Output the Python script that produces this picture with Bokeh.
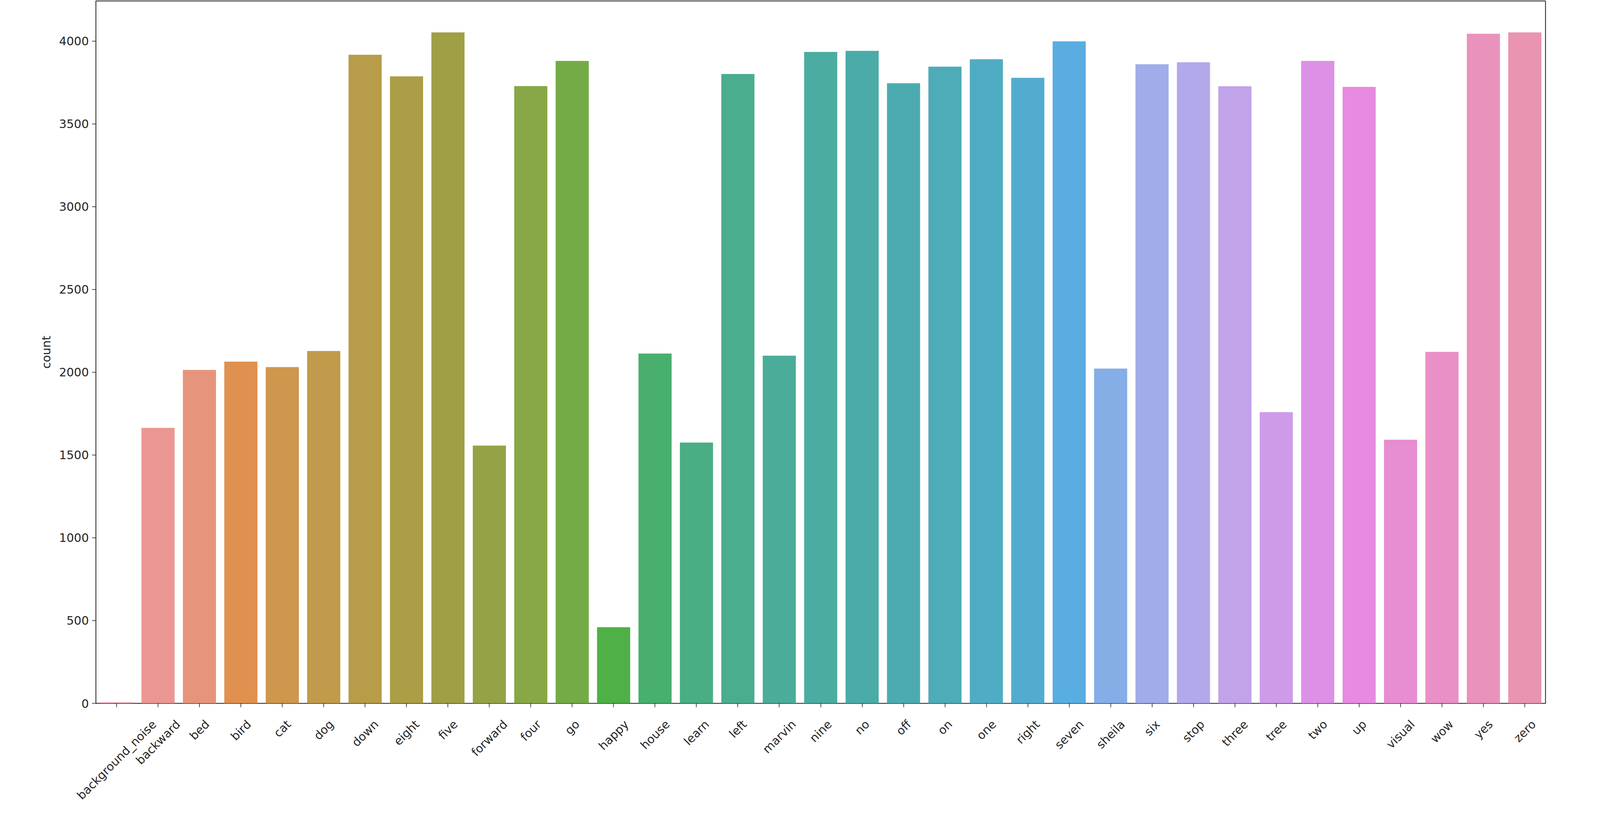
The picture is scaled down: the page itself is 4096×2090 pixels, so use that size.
import math
import colorsys
from bokeh.plotting import figure
from bokeh.layouts import column
from bokeh.models import ColumnDataSource, FactorRange, Range1d, FixedTicker
from bokeh.core.properties import value
from bokeh.embed import file_html
from bokeh.resources import INLINE

# ---------------- data ----------------
categories = ["background_noise", "backward", "bed", "bird", "cat", "dog", "down", "eight",
              "five", "forward", "four", "go", "happy", "house", "learn", "left", "marvin",
              "nine", "no", "off", "on", "one", "right", "seven", "sheila", "six", "stop",
              "three", "tree", "two", "up", "visual", "wow", "yes", "zero"]
counts = [6, 1664, 2014, 2064, 2031, 2128, 3917, 3787,
          4052, 1557, 3728, 3880, 460, 2113, 1575, 3801, 2100,
          3934, 3941, 3745, 3845, 3890, 3778, 3998, 2022, 3860, 3872,
          3727, 1759, 3880, 3723, 1592, 2123, 4044, 4052]
y_ticks = [0, 500, 1000, 1500, 2000, 2500, 3000, 3500, 4000]
y_label = "count"

# ---------------- seaborn-like husl palette ----------------
_m = [[3.2406, -1.5372, -0.4986],
      [-0.9689, 1.8758, 0.0415],
      [0.0557, -0.2040, 1.0570]]
_refU, _refV = 0.19784, 0.46834


def _max_chroma(L, H):
    hrad = math.radians(H)
    sinH, cosH = math.sin(hrad), math.cos(hrad)
    sub1 = (L + 16) ** 3 / 1560896.0
    sub2 = sub1 if sub1 > 0.008856 else L / 903.3
    result = float("inf")
    for m1, m2, m3 in _m:
        top = (0.99915 * m1 + 1.05122 * m2 + 1.14460 * m3) * sub2
        rbottom = 0.86330 * m3 - 0.17266 * m2
        lbottom = 0.12949 * m3 - 0.38848 * m1
        bottom = (rbottom * sinH + lbottom * cosH) * sub2
        for t in (0.0, 1.0):
            C = L * (top - 1.05122 * t) / (bottom + 0.17266 * sinH * t)
            if 0.0 < C < result:
                result = C
    return result


def _husl_to_rgb(H, S, L):
    C = _max_chroma(L, H) / 100.0 * S
    U = math.cos(math.radians(H)) * C
    V = math.sin(math.radians(H)) * C
    t = (L + 16.0) / 116.0
    varY = t ** 3 if t ** 3 > 0.008856 else (116.0 * t - 16.0) / 903.3
    varU = U / (13.0 * L) + _refU
    varV = V / (13.0 * L) + _refV
    Y = varY
    X = 0.0 - (9.0 * Y * varU) / ((varU - 4.0) * varV - varU * varV)
    Z = (9.0 * Y - (15.0 * varV * Y) - (varV * X)) / (3.0 * varV)
    out = []
    for row in _m:
        c = row[0] * X + row[1] * Y + row[2] * Z
        c = 12.92 * c if c <= 0.0031308 else 1.055 * c ** (1 / 2.4) - 0.055
        out.append(min(max(c, 0.0), 1.0))
    return out


def palette(n, h=0.01, s=0.9, l=0.7, desat=0.75):
    cols = []
    for i in range(n):
        hue = ((i / n) + h) % 1 * 359
        r, g, b = _husl_to_rgb(hue, s * 99, l * 99)
        hh, ll, ss = colorsys.rgb_to_hls(r, g, b)
        r, g, b = colorsys.hls_to_rgb(hh, ll, ss * desat)
        cols.append("#%02x%02x%02x" % (round(r * 255), round(g * 255), round(b * 255)))
    return cols


colors = palette(len(categories))

# ---------------- layout constants ----------------
W, H = 4080, 2074
FS = 30
LEFT, RIGHT, TOP = 245, 124, 2
FRAME_H = 1799
BOTTOM1 = 20                        # room for x tick marks under the main frame
H2 = H - (TOP + FRAME_H + BOTTOM1)  # label strip height

# approximate DejaVu Sans advance widths (em) for centering rotated labels
_w = {'a': .613, 'b': .635, 'c': .550, 'd': .635, 'e': .615, 'f': .352, 'g': .635, 'h': .634,
      'i': .278, 'k': .579, 'l': .278, 'm': .974, 'n': .634, 'o': .612, 'p': .635, 'r': .411,
      's': .521, 't': .392, 'u': .634, 'v': .592, 'w': .818, 'x': .592, 'y': .592, 'z': .525,
      '_': .5}


def text_w(s):
    return sum(_w.get(ch, 0.6) for ch in s) * FS


label_y = [-((36 + (text_w(c) + 1.15 * FS) * 0.7071 / 2) - BOTTOM1) for c in categories]
label_x = [i + 0.5 for i in range(len(categories))]

src = ColumnDataSource(dict(cat=categories, count=counts, color=colors))

# ---------------- main figure ----------------
p = figure(width=W, height=TOP + FRAME_H + BOTTOM1,
           x_range=FactorRange(*categories),
           y_range=Range1d(0, 4242),
           output_backend="svg", toolbar_location=None,
           min_border_left=LEFT, min_border_right=RIGHT,
           min_border_top=TOP, min_border_bottom=BOTTOM1)
p.frame_align = False

p.vbar(x="cat", top="count", width=0.8, fill_color="color", line_color=None, source=src)

p.xgrid.visible = False
p.ygrid.visible = False
p.background_fill_color = "white"
p.border_fill_color = "white"
p.outline_line_color = "#1a1a1a"
p.outline_line_width = 2

for ax in (p.xaxis[0], p.yaxis[0]):
    ax.axis_line_color = None
    ax.major_tick_out = 10
    ax.major_tick_in = 0
    ax.major_tick_line_color = "#1a1a1a"
    ax.major_tick_line_width = 1.5
    ax.minor_tick_line_color = None
    ax.major_label_text_font = "DejaVu Sans"
    ax.major_label_text_font_size = f"{FS}px"
    ax.major_label_text_color = "#262626"

p.xaxis.major_label_text_color = None
p.xaxis.major_label_text_font_size = "0px"
p.xaxis.major_label_standoff = 0

p.yaxis.ticker = FixedTicker(ticks=y_ticks)
p.yaxis.major_label_standoff = 8
p.yaxis.axis_label = y_label
p.yaxis.axis_label_text_font = "DejaVu Sans"
p.yaxis.axis_label_text_font_size = f"{FS}px"
p.yaxis.axis_label_text_font_style = "normal"
p.yaxis.axis_label_text_color = "#262626"
p.yaxis.axis_label_standoff = 12

# ---------------- rotated, centred category labels ----------------
ppc = (W - LEFT - RIGHT) / len(categories)
lab_src = ColumnDataSource(dict(x=label_x, y=label_y, text=categories))

p2 = figure(width=W, height=H2,
            x_range=Range1d(-LEFT / ppc, len(categories) + RIGHT / ppc),
            y_range=Range1d(-H2, 0),
            output_backend="svg", toolbar_location=None,
            min_border_left=0, min_border_right=0,
            min_border_top=0, min_border_bottom=0)
p2.frame_align = False
p2.axis.visible = False
p2.grid.visible = False
p2.outline_line_color = None
p2.background_fill_color = "white"
p2.border_fill_color = "white"
p2.text(x="x", y="y", text="text", source=lab_src, angle=math.pi / 4,
        text_align="center", text_baseline="middle",
        text_font=value("DejaVu Sans"),
        text_font_size=f"{FS}px", text_color="#262626")

open("out.html", "w").write(file_html(column(p, p2), INLINE))
